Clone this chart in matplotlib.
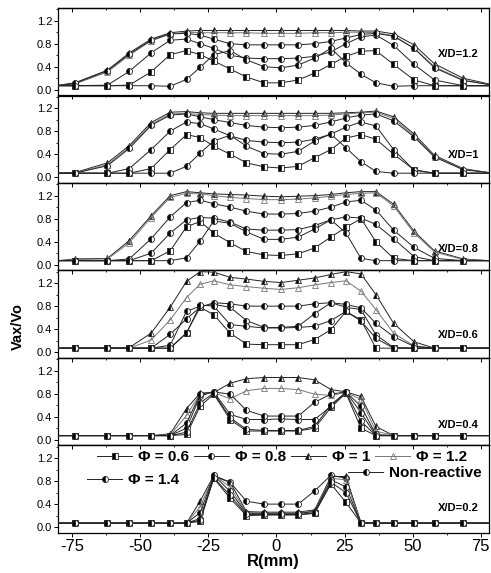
import numpy as np
import matplotlib
matplotlib.use("Agg")
import matplotlib.pyplot as plt
from matplotlib.ticker import MultipleLocator
from matplotlib.lines import Line2D

plt.rcParams['font.family'] = ['Liberation Sans', 'DejaVu Sans']

# radial positions (mm); first/last are the line ends at the frame (no marker)
r_mm = [-80, -74, -62, -54, -46, -39, -33, -28, -23, -17, -11, -4.5, 1.7, 8, 14,
        20, 25.5, 31, 36.5, 43, 50.5, 58, 68.5, 78]

xd_labels = ['X/D=1.2', 'X/D=1', 'X/D=0.8', 'X/D=0.6', 'X/D=0.4', 'X/D=0.2']
xd_label_y = [0.62, 0.39, 0.27, 0.30, 0.26, 0.34]

# Vax/Vo per series, one row per panel (X/D = 1.2, 1, 0.8, 0.6, 0.4, 0.2)
phi06 = [
    [.07, .07, .07, .08, .31, .61, .68, .61, .50, .36, .22, .12, .12, .17, .29, .44, .58, .67, .68, .44, .17, .07, .07, .07],
    [.07, .07, .07, .07, .15, .48, .74, .69, .54, .40, .25, .18, .16, .19, .34, .48, .68, .74, .66, .40, .13, .07, .07, .07],
    [.07, .07, .07, .07, .07, .24, .66, .75, .55, .38, .23, .17, .16, .19, .29, .48, .65, .80, .40, .11, .07, .07, .07, .07],
    [.07, .07, .07, .07, .07, .07, .34, .78, .65, .33, .14, .13, .13, .13, .22, .39, .71, .56, .07, .07, .07, .07, .07, .07],
    [.07, .07, .07, .07, .07, .07, .09, .58, .79, .35, .15, .15, .15, .15, .20, .56, .81, .20, .07, .07, .07, .07, .07, .07],
    [.07, .07, .07, .07, .07, .07, .07, .10, .85, .50, .20, .21, .21, .21, .24, .75, .43, .07, .07, .07, .07, .07, .07, .07],
]
phi08 = [
    [.07, .07, .08, .32, .64, .86, .88, .80, .72, .60, .55, .54, .54, .55, .58, .66, .80, .92, .95, .77, .44, .17, .07, .07],
    [.07, .07, .07, .15, .48, .80, .96, .93, .84, .72, .64, .61, .60, .61, .66, .75, .87, .96, .89, .48, .12, .07, .07, .07],
    [.07, .07, .07, .07, .20, .55, .78, .82, .81, .74, .62, .60, .60, .61, .68, .78, .83, .81, .70, .45, .14, .07, .07, .07],
    [.07, .07, .07, .07, .07, .12, .71, .80, .83, .78, .55, .43, .43, .45, .67, .86, .78, .74, .30, .08, .07, .07, .07, .07],
    [.07, .07, .07, .07, .07, .07, .20, .76, .83, .44, .35, .35, .36, .35, .35, .58, .83, .47, .07, .07, .07, .07, .07, .07],
    [.07, .07, .07, .07, .07, .07, .07, .15, .88, .78, .45, .40, .40, .40, .63, .90, .85, .08, .07, .07, .07, .07, .07, .07],
]
phi10 = [
    [.08, .12, .34, .64, .88, .99, 1.02, 1.03, 1.03, 1.03, 1.03, 1.03, 1.03, 1.03, 1.03, 1.03, 1.03, 1.02, 1.02, .97, .78, .45, .20, .10],
    [.07, .08, .25, .55, .95, 1.13, 1.14, 1.12, 1.11, 1.11, 1.11, 1.11, 1.11, 1.11, 1.11, 1.11, 1.12, 1.13, 1.15, 1.05, .75, .38, .15, .08],
    [.07, .10, .11, .42, .85, 1.20, 1.27, 1.25, 1.23, 1.22, 1.21, 1.19, 1.18, 1.19, 1.20, 1.22, 1.25, 1.27, 1.27, 1.05, .58, .24, .10, .07],
    [.07, .07, .07, .08, .33, .78, 1.23, 1.40, 1.39, 1.30, 1.27, 1.23, 1.21, 1.25, 1.29, 1.35, 1.40, 1.36, 1.00, .50, .18, .07, .07, .07],
    [.07, .07, .07, .07, .07, .10, .54, .81, .82, .98, 1.06, 1.08, 1.08, 1.08, 1.04, .87, .83, .75, .23, .07, .07, .07, .07, .07],
    [.07, .07, .07, .07, .07, .07, .07, .45, .90, .78, .27, .26, .26, .26, .30, .88, .88, .07, .07, .07, .07, .07, .07, .07],
]
phi12 = [
    [.07, .10, .31, .60, .85, .97, 1.00, .99, .99, .99, .99, .98, .98, .98, .99, .99, 1.00, 1.00, .99, .94, .72, .40, .17, .09],
    [.07, .07, .22, .52, .92, 1.10, 1.11, 1.09, 1.08, 1.07, 1.07, 1.07, 1.07, 1.07, 1.07, 1.08, 1.10, 1.12, 1.13, 1.02, .72, .36, .14, .08],
    [.07, .09, .10, .38, .82, 1.17, 1.24, 1.23, 1.20, 1.17, 1.15, 1.13, 1.13, 1.14, 1.16, 1.19, 1.22, 1.24, 1.25, 1.02, .55, .22, .09, .07],
    [.07, .07, .07, .07, .21, .56, .95, 1.18, 1.24, 1.17, 1.14, 1.11, 1.09, 1.12, 1.17, 1.21, 1.24, 1.06, .74, .33, .11, .07, .07, .07],
    [.07, .07, .07, .07, .07, .08, .42, .80, .82, .71, .85, .89, .89, .87, .79, .77, .82, .70, .15, .07, .07, .07, .07, .07],
    [.07, .07, .07, .07, .07, .07, .07, .35, .90, .70, .25, .25, .25, .25, .28, .85, .82, .07, .07, .07, .07, .07, .07, .07],
]
phi14 = [
    [.07, .11, .33, .62, .86, .97, .98, .95, .88, .80, .78, .78, .78, .78, .80, .84, .90, .96, .98, .93, .72, .38, .16, .09],
    [.07, .07, .20, .50, .90, 1.08, 1.10, 1.05, 1.00, .95, .90, .87, .86, .87, .90, .96, 1.03, 1.08, 1.10, .98, .70, .35, .13, .08],
    [.07, .07, .07, .10, .45, .83, 1.08, 1.12, 1.06, 1.00, .93, .88, .88, .89, .93, 1.00, 1.09, 1.12, .95, .60, .30, .11, .07, .07],
    [.07, .07, .07, .07, .07, .31, .58, .78, .86, .84, .80, .80, .80, .80, .84, .86, .83, .77, .50, .27, .10, .07, .07, .07],
    [.07, .07, .07, .07, .07, .07, .29, .79, .83, .79, .51, .41, .41, .41, .65, .79, .83, .58, .09, .07, .07, .07, .07, .07],
    [.07, .07, .07, .07, .07, .07, .07, .25, .90, .62, .24, .24, .24, .24, .27, .82, .70, .07, .07, .07, .07, .07, .07, .07],
]
non_reactive = [
    [.07, .07, .07, .07, .07, .06, .18, .39, .61, .68, .52, .40, .38, .43, .55, .72, .47, .27, .12, .06, .07, .07, .07, .07],
    [.07, .07, .07, .07, .07, .07, .19, .42, .63, .73, .54, .41, .40, .45, .63, .75, .51, .27, .10, .07, .07, .07, .07, .07],
    [.07, .07, .07, .07, .07, .07, .12, .41, .76, .72, .57, .44, .44, .48, .62, .78, .55, .11, .07, .07, .07, .07, .07, .07],
    [.07, .07, .07, .07, .07, .07, .33, .82, .80, .48, .45, .42, .42, .43, .45, .55, .71, .54, .24, .07, .07, .07, .07, .07],
    [.07, .07, .07, .07, .07, .07, .13, .64, .81, .38, .18, .16, .16, .16, .23, .61, .82, .32, .07, .07, .07, .07, .07, .07],
    [.07, .07, .07, .07, .07, .07, .07, .12, .86, .55, .22, .22, .22, .22, .25, .78, .60, .07, .07, .07, .07, .07, .07, .07],
]

series = [
    (phi06, 'Φ = 0.6', dict(marker='s', fillstyle='left'), '#222222'),
    (phi08, 'Φ = 0.8', dict(marker='o', fillstyle='left'), '#222222'),
    (phi10, 'Φ = 1', dict(marker='^', fillstyle='left'), '#222222'),
    (phi12, 'Φ = 1.2', dict(marker='^', fillstyle='none'), '#777777'),
    (phi14, 'Φ = 1.4', dict(marker='o', fillstyle='left'), '#222222'),
    (non_reactive, 'Non-reactive', dict(marker='o', fillstyle='left'), '#222222'),
]

fig = plt.figure(figsize=(4.91, 5.73), dpi=100)
axes = fig.subplots(6, 1, sharex=True)
fig.subplots_adjust(left=0.119, right=0.996, top=0.986, bottom=0.070, hspace=0)

n = len(r_mm)
handles = []
for k, (vals, lab, mk, col) in enumerate(series):
    for i, ax in enumerate(axes):
        ax.plot(r_mm, vals[i], color=col, lw=0.7, markersize=4.3,
                markeredgecolor=col, markerfacecolor='black',
                markerfacecoloralt='white', markeredgewidth=0.6,
                markevery=list(range(1, n - 1)), zorder=3 + k, **mk)
    handles.append(Line2D([], [], color=col, lw=0.7, markersize=4.3,
                          markeredgecolor=col, markerfacecolor='black',
                          markerfacecoloralt='white', markeredgewidth=0.6, **mk))

for i, ax in enumerate(axes):
    ax.set_xlim(-80, 78)
    ax.set_ylim(-0.1, 1.42)
    ax.yaxis.set_minor_locator(MultipleLocator(0.2))
    ax.set_yticks([0.0, 0.4, 0.8, 1.2])
    ax.set_yticklabels(['0.0', '0.4', '0.8', '1.2'])
    ax.tick_params(axis='y', which='major', direction='out', length=3, width=0.7, labelsize=8, pad=1.5)
    ax.tick_params(axis='y', which='minor', direction='out', length=1.5, width=0.6)
    ax.xaxis.set_major_locator(MultipleLocator(25))
    ax.xaxis.set_minor_locator(MultipleLocator(12.5))
    top = ax.secondary_xaxis('top')
    top.xaxis.set_major_locator(MultipleLocator(25))
    top.xaxis.set_minor_locator(MultipleLocator(12.5))
    top.tick_params(which='major', direction='in', length=3, width=0.7, labeltop=False)
    top.tick_params(which='minor', direction='in', length=1.5, width=0.6)
    top.spines['top'].set_linewidth(0.9)
    if i < 5:
        ax.tick_params(axis='x', which='both', bottom=False, labelbottom=False)
    else:
        ax.tick_params(axis='x', which='major', direction='out', length=3, width=0.7, labelsize=12, pad=1.5)
        ax.tick_params(axis='x', which='minor', direction='out', length=1.5, width=0.6)
        ax.set_xticks([-75, -50, -25, 0, 25, 50, 75])
        ax.set_xticklabels(['-75', '-50', '-25', '0', '25', '50', '75'])
        ax.set_xlabel('R(mm)', fontsize=12, fontweight='bold', labelpad=0)
    for s in ax.spines.values():
        s.set_linewidth(0.9)
    ax.text(74.3, xd_label_y[i], xd_labels[i], ha='right', va='center',
            fontsize=8, fontweight='bold')

fig.text(18 / 491, 1 - 326 / 573, 'Vax/Vo', rotation=90, ha='center', va='center',
         fontsize=10.5, fontweight='bold')

leg_kw = dict(frameon=False, borderpad=0, borderaxespad=0, handlelength=2.3,
              handletextpad=0.4, columnspacing=0.3,
              prop=dict(size=11, weight='bold'), loc='center left',
              bbox_transform=fig.transFigure)
ax6 = axes[5]
leg1 = ax6.legend(handles[:4], [s[1] for s in series[:4]], ncol=4,
                  bbox_to_anchor=(97 / 491, 1 - 457 / 573), **leg_kw)
ax6.add_artist(leg1)
leg2 = ax6.legend([handles[4]], [series[4][1]],
                  bbox_to_anchor=(87 / 491, 1 - 480 / 573), **leg_kw)
ax6.add_artist(leg2)
ax6.legend([handles[5]], [series[5][1]],
           bbox_to_anchor=(348 / 491, 1 - 473 / 573), **leg_kw)

fig.savefig('out.png', dpi=100)
